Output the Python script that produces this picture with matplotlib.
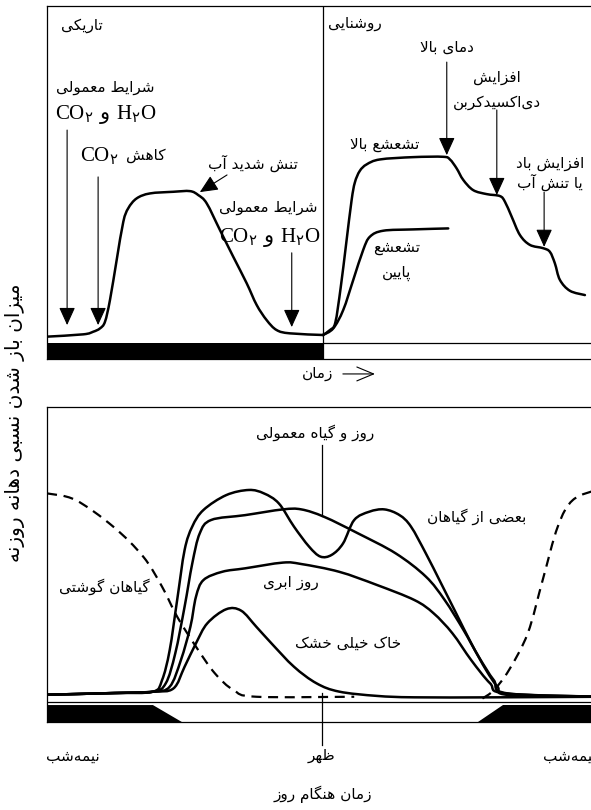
import matplotlib
matplotlib.use('Agg')
import matplotlib.pyplot as plt
from matplotlib.path import Path
from matplotlib.patches import PathPatch

# فونت‌ها: متن فارسی با DejaVu Sans، فرمول‌ها با Liberation Serif
plt.rcParams['mathtext.fontset'] = 'custom'
plt.rcParams['mathtext.rm'] = 'Liberation Serif'
plt.rcParams['mathtext.sf'] = 'DejaVu Sans'
FA = 'DejaVu Sans'

# شکل‌دهی ساده حروف فارسی (matplotlib خودش حروف را به هم نمی‌چسباند)
_FORMS = {
    'ا': ('\uFE8D', '\uFE8E', None, None), 'آ': ('\uFE81', '\uFE82', None, None),
    'ب': ('\uFE8F', '\uFE90', '\uFE91', '\uFE92'), 'پ': ('\uFB56', '\uFB57', '\uFB58', '\uFB59'),
    'ت': ('\uFE95', '\uFE96', '\uFE97', '\uFE98'), 'خ': ('\uFEA5', '\uFEA6', '\uFEA7', '\uFEA8'),
    'د': ('\uFEA9', '\uFEAA', None, None), 'ر': ('\uFEAD', '\uFEAE', None, None),
    'ز': ('\uFEAF', '\uFEB0', None, None), 'س': ('\uFEB1', '\uFEB2', '\uFEB3', '\uFEB4'),
    'ش': ('\uFEB5', '\uFEB6', '\uFEB7', '\uFEB8'), 'ض': ('\uFEBD', '\uFEBE', '\uFEBF', '\uFEC0'),
    'ط': ('\uFEC1', '\uFEC2', '\uFEC3', '\uFEC4'), 'ظ': ('\uFEC5', '\uFEC6', '\uFEC7', '\uFEC8'),
    'ع': ('\uFEC9', '\uFECA', '\uFECB', '\uFECC'), 'ف': ('\uFED1', '\uFED2', '\uFED3', '\uFED4'),
    'ک': ('\uFB8E', '\uFB8F', '\uFB90', '\uFB91'), 'گ': ('\uFB92', '\uFB93', '\uFB94', '\uFB95'),
    'ل': ('\uFEDD', '\uFEDE', '\uFEDF', '\uFEE0'), 'م': ('\uFEE1', '\uFEE2', '\uFEE3', '\uFEE4'),
    'ن': ('\uFEE5', '\uFEE6', '\uFEE7', '\uFEE8'), 'ه': ('\uFEE9', '\uFEEA', '\uFEEB', '\uFEEC'),
    'و': ('\uFEED', '\uFEEE', None, None), 'ی': ('\uFBFC', '\uFBFD', '\uFBFE', '\uFBFF'),
}


def fa(text):
    out = []
    n = len(text)
    i = 0
    while i < n:
        c = text[i]
        if c not in _FORMS:
            if c != '\u200c':
                out.append(c)
            i += 1
            continue
        prev = i > 0 and text[i - 1] in _FORMS and _FORMS[text[i - 1]][2] is not None
        if c == 'ل' and i + 1 < n and text[i + 1] == 'ا':
            out.append('\uFEFC' if prev else '\uFEFB')
            i += 2
            continue
        nxt = _FORMS[c][2] is not None and i + 1 < n and text[i + 1] in _FORMS
        iso, fin, ini, med = _FORMS[c]
        out.append(med if prev and nxt else fin if prev else ini if nxt else iso)
        i += 1
    return ''.join(out)[::-1]


def smooth(x, y):
    # منحنی نرم (کاتمول-رام) که از همه نقطه‌ها می‌گذرد
    pts = list(zip(x, y))
    verts, codes = [pts[0]], [Path.MOVETO]
    for i in range(len(pts) - 1):
        p0 = pts[i - 1] if i > 0 else pts[i]
        p1, p2 = pts[i], pts[i + 1]
        p3 = pts[i + 2] if i + 2 < len(pts) else p2
        c1 = (p1[0] + (p2[0] - p0[0]) / 6, p1[1] + (p2[1] - p0[1]) / 6)
        c2 = (p2[0] - (p3[0] - p1[0]) / 6, p2[1] - (p3[1] - p1[1]) / 6)
        verts += [c1, c2, p2]
        codes += [Path.CURVE4] * 3
    return Path(verts, codes)


CO2_H2O = r'$\mathrm{CO}_\mathsf{۲}\ \mathsf{و}\ \mathrm{H}_\mathsf{۲}\mathrm{O}$'
CO2 = r'$\mathrm{CO}_\mathsf{۲}$'

# ---- داده‌های نمودار بالا (زمان نسبی، میزان باز شدن نسبی) ----
divider_t = 50.7
dark_t = [0, 6.67, 8.51, 9.74, 10.66, 11.58, 12.81, 14.03, 14.94, 16.49, 18.93, 23.22, 26.29,
          27.81, 29.36, 31.80, 34.25, 36.71, 38.55, 40.39, 42.22, 44.67, 50.79]
dark_o = [-0.2, 0.5, 1.3, 2.3, 4.3, 10.9, 23.0, 34.6, 38.7, 41.7, 43.2, 43.7, 43.9,
          42.7, 40.2, 32.1, 24.0, 16.0, 9.4, 4.8, 1.8, 0.8, 0.3]
high_t = [50.74, 52.02, 53.0, 54.0, 55.0, 56.0, 56.6, 57.5, 58.77, 61.21, 67.33, 72.85, 74.08,
          75.31, 76.53, 78.36, 80.83, 83.27, 84.19, 85.42, 86.95, 88.79, 91.23, 92.46, 93.38,
          94.30, 96.14, 98.9]
high_o = [0.3, 1.8, 4.0, 14.7, 27.9, 41.1, 46.5, 50.0, 52.0, 53.5, 54.2, 54.3, 53.5,
          50.8, 47.3, 44.2, 43.0, 42.4, 40.7, 36.2, 30.6, 27.6, 26.6, 25.5, 22.0,
          17.0, 13.7, 12.4]
low_t = [50.74, 52.63, 54.47, 56.31, 58.14, 59.38, 61.82, 67.33, 73.77]
low_o = [0.3, 2.3, 7.9, 17.0, 26.1, 30.1, 31.9, 32.3, 32.6]

# پیکان‌ها: (t دم، o دم، t نوک، o نوک)
top_arrows = [
    (3.7, 62.4, 3.7, 3.3),
    (9.4, 48.2, 9.4, 3.3),
    (45.0, 25.2, 45.0, 2.7),
    (33.1, 48.8, 28.1, 43.6),
    (73.5, 83.0, 73.5, 54.8),
    (82.7, 68.5, 82.7, 42.7),
    (91.4, 43.6, 91.4, 27.0),
]

# ---- داده‌های نمودار پایین (ساعت، میزان باز شدن نسبی) ----
some_h = [-1.3, 2.0, 3.85, 4.30, 4.67, 5.03, 5.39, 5.76, 6.30, 7.40, 8.49, 9.22, 9.94, 10.67,
          11.40, 11.95, 12.49, 13.04, 13.58, 14.31, 15.04, 15.77, 16.32, 17.04, 17.77, 18.50,
          19.23, 19.95, 20.50, 21.05, 25.4]
some_o = [-0.6, 0.0, 0.45, 4.5, 15.0, 32.5, 50.0, 58.2, 64.0, 69.2, 71.0, 69.8, 66.3, 58.2,
          51.2, 47.7, 48.3, 52.3, 60.5, 63.4, 64.2, 62.2, 58.2, 48.8, 38.4, 27.9,
          17.4, 8.0, 2.2, -0.7, -1.3]
normal_h = [-1.3, 2.0, 3.85, 4.48, 4.94, 5.39, 5.76, 6.12, 6.67, 8.31, 10.13, 11.03, 12.13,
            13.77, 15.59, 17.04, 17.95, 18.86, 19.59, 20.32, 20.96, 25.4]
normal_o = [-0.6, 0.0, 0.45, 3.4, 13.9, 30.2, 45.3, 55.8, 60.5, 62.2, 64.2, 64.2, 61.6,
            55.8, 48.8, 40.7, 32.5, 22.0, 12.7, 4.5, -0.1, -1.3]
cloudy_h = [-1.3, 2.0, 3.85, 4.67, 5.21, 5.67, 5.94, 6.30, 7.21, 8.31, 10.13, 11.03, 12.85,
            14.67, 16.49, 17.41, 18.32, 19.23, 20.14, 20.86, 25.4]
cloudy_o = [-0.6, 0.0, 0.45, 2.2, 11.5, 23.2, 33.7, 39.5, 42.4, 43.6, 45.6, 45.1, 42.4,
            37.8, 32.5, 27.9, 20.9, 11.5, 3.4, -0.1, -1.3]
dry_h = [-1.3, 2.0, 3.85, 4.85, 5.39, 5.94, 6.49, 7.40, 8.12, 8.85, 9.58, 10.67, 11.76,
         12.85, 14.67, 16.49, 20.50, 25.4]
dry_o = [-0.6, 0.0, 0.45, 1.6, 9.2, 17.4, 24.4, 29.3, 28.8, 23.2, 17.4, 9.2, 3.4,
         0.5, -1.0, -1.5, -1.5, -1.3]
succ_am_h = [-1.25, 0.12, 1.94, 3.39, 4.30, 5.03, 5.94, 6.85, 7.76, 8.85, 13.58]
succ_am_o = [69.8, 67.5, 58.2, 47.7, 37.2, 26.7, 16.2, 6.9, 1.0, -1.3, -1.3]
succ_pm_h = [19.77, 20.32, 21.05, 21.96, 22.68, 23.41, 24.14, 25.4]
succ_pm_o = [-1.9, 1.0, 8.0, 20.9, 39.5, 58.2, 67.5, 71.3]

dawn = (3.86, 5.26)    # شروع و پایان سپیده‌دم
dusk = (19.56, 20.76)  # شروع و پایان شامگاه
tick_h = [0, 12, 24]
tick_labels = ['نیمه‌شب', 'ظهر', 'نیمه‌شب']

fig = plt.figure(figsize=(5.91, 8.10), dpi=100)
LW = 1.8

# ================= نمودار بالا =================
ax1 = fig.add_axes([0.0795, 0.5568, 0.9323, 0.4358])
ax1.set_xlim(0, 101.3)
ax1.set_ylim(-6.97, 100)
ax1.set_xticks([])
ax1.set_yticks([])
ax1.spines['right'].set_visible(False)
for s in ax1.spines.values():
    s.set_linewidth(0.9)

ax1.fill_between([0, divider_t], -6.97, -2.1, color='black', lw=0)
ax1.plot([divider_t, 101.3], [-2.1, -2.1], color='black', lw=0.9)
ax1.axvline(divider_t, color='black', lw=0.9)

for t, o in [(dark_t, dark_o), (high_t, high_o), (low_t, low_o)]:
    ax1.add_patch(PathPatch(smooth(t, o), fill=False, ec='black', lw=LW,
                            capstyle='round', joinstyle='round'))

for t0, o0, t1, o1 in top_arrows:
    ax1.annotate('', xy=(t1, o1), xytext=(t0, o0),
                 arrowprops=dict(arrowstyle='-|>,head_length=0.55,head_width=0.25',
                                 mutation_scale=20, color='black', lw=0.8,
                                 shrinkA=0, shrinkB=0))

ax1.text(6.4, 94.2, fa('تاریکی'), family=FA, fontsize=11, ha='center', va='center')
ax1.text(10.8, 75.2, fa('شرایط معمولی'), family=FA, fontsize=11, ha='center', va='center')
ax1.text(10.8, 67.0, CO2_H2O, fontsize=15, ha='center', va='center')
ax1.text(9.6, 54.6, CO2, fontsize=15, ha='center', va='center')
ax1.text(18.2, 54.6, fa('کاهش'), family=FA, fontsize=11, ha='center', va='center')
ax1.text(37.9, 52.4, fa('تنش شدید آب'), family=FA, fontsize=11, ha='center', va='center')
ax1.text(40.6, 38.8, fa('شرایط معمولی'), family=FA, fontsize=11, ha='center', va='center')
ax1.text(41.0, 29.9, CO2_H2O, fontsize=15, ha='center', va='center')
ax1.text(51.6, 94.8, fa('روشنایی'), family=FA, fontsize=11, ha='left', va='center')
ax1.text(73.5, 87.6, fa('دمای بالا'), family=FA, fontsize=11, ha='center', va='center')
ax1.text(82.7, 78.2, fa('افزایش'), family=FA, fontsize=11, ha='center', va='center')
ax1.text(82.7, 70.9, fa('دی‌اکسیدکربن'), family=FA, fontsize=11, ha='center', va='center')
ax1.text(62.0, 57.9, fa('تشعشع بالا'), family=FA, fontsize=11, ha='center', va='center')
ax1.text(64.3, 26.7, fa('تشعشع'), family=FA, fontsize=11, ha='center', va='center')
ax1.text(64.3, 19.1, fa('پایین'), family=FA, fontsize=11, ha='center', va='center')
ax1.text(92.5, 52.4, fa('افزایش باد'), family=FA, fontsize=11, ha='center', va='center')
ax1.text(92.5, 46.7, fa('یا تنش آب'), family=FA, fontsize=11, ha='center', va='center')

ax1.text(49.8, -11.3, fa('زمان'), family=FA, fontsize=11, ha='center', va='center')
ax1.annotate('', xy=(60.3, -11.5), xytext=(54.4, -11.5), annotation_clip=False,
             arrowprops=dict(arrowstyle='->,head_length=0.6,head_width=0.25',
                             mutation_scale=20, color='black', lw=0.8,
                             shrinkA=0, shrinkB=0))

# ================= نمودار پایین =================
ax2 = fig.add_axes([0.0795, 0.1086, 0.9323, 0.3889])
ax2.set_xlim(-1.255, 25.35)
ax2.set_ylim(-10.14, 100)
ax2.set_yticks([])
ax2.spines['right'].set_visible(False)
for s in ax2.spines.values():
    s.set_linewidth(0.9)

x0, x1 = ax2.get_xlim()
ax2.axhline(-3.15, color='black', lw=0.9)
ax2.fill([x0, dawn[0], dawn[1], x0], [-4.2, -4.2, -10.14, -10.14], color='black', lw=0)
ax2.fill([dusk[1], x1, x1, dusk[0]], [-4.2, -4.2, -10.14, -10.14], color='black', lw=0)

for h, o in [(some_h, some_o), (normal_h, normal_o), (cloudy_h, cloudy_o), (dry_h, dry_o)]:
    ax2.add_patch(PathPatch(smooth(h, o), fill=False, ec='black', lw=LW,
                            capstyle='round', joinstyle='round'))
for h, o in [(succ_am_h, succ_am_o), (succ_pm_h, succ_pm_o)]:
    ax2.add_patch(PathPatch(smooth(h, o), fill=False, ec='black', lw=1.6,
                            linestyle=(0, (4.5, 3))))

ax2.plot([12.02, 12.02], [86.7, 62.0], color='black', lw=0.9)
ax2.plot([12.02, 12.02], [0, -18.2], color='black', lw=0.9, clip_on=False)

ax2.text(11.7, 90.9, fa('روز و گیاه معمولی'), family=FA, fontsize=11, ha='center', va='center')
ax2.text(19.5, 61.5, fa('بعضی از گیاهان'), family=FA, fontsize=11, ha='center', va='center')
ax2.text(10.5, 38.5, fa('روز ابری'), family=FA, fontsize=11, ha='center', va='center')
ax2.text(1.5, 37.1, fa('گیاهان گوشتی'), family=FA, fontsize=11, ha='center', va='center')
ax2.text(13.3, 17.5, fa('خاک خیلی خشک'), family=FA, fontsize=11, ha='center', va='center')

ax2.set_xticks(tick_h)
ax2.set_xticklabels([fa(s) for s in tick_labels], family=FA, fontsize=11)
ax2.tick_params(axis='x', length=0, pad=19)
ax2.set_xlabel(fa('زمان هنگام روز'), family=FA, fontsize=11, labelpad=16)

fig.text(0.0254, 0.478, fa('میزان باز شدن نسبی دهانه روزنه'), family=FA, fontsize=14.5,
         rotation=90, ha='center', va='center')

fig.savefig('out.png', dpi=100)
